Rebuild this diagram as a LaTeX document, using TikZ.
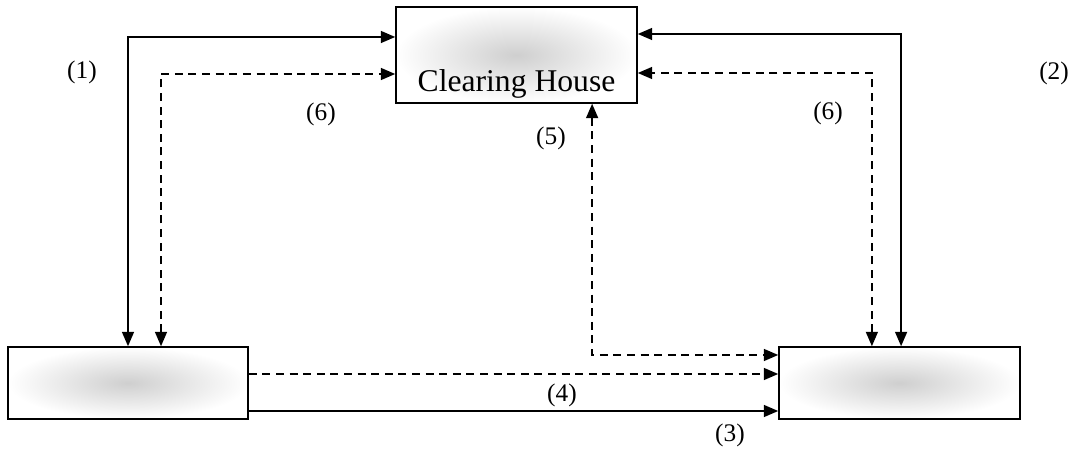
\documentclass[tikz,border=0pt]{standalone}
\usepackage{fontspec}
\setmainfont{Liberation Serif}
\usepackage{tikz}
\usetikzlibrary{positioning}
\usetikzlibrary{calc}
\usetikzlibrary{arrows.meta}

\begin{document}
\begin{tikzpicture}[x=0.025cm,y=-0.025cm,
  shadedbox/.style={draw=black,line width=1.1pt,rectangle,inner sep=0pt,
    shading=radial,inner color=gray!38,outer color=white},
  solidflow/.style={draw=black,line width=1.1pt,>={Triangle[length=0.36cm,width=0.3cm]}},
  dashedflow/.style={solidflow,dash pattern=on 0.2cm off 0.14cm},
  numlabel/.style={font=\fontsize{18}{20}\selectfont}]

\useasboundingbox (0,0) rectangle (1080,451);

%BOXES
\node[shadedbox,minimum width=6.025cm,minimum height=2.4cm](CH)at(516.5,55){};
\node[font=\fontsize{22.5}{26}\selectfont](CH-label)at([yshift=0.5cm]CH.south){Clearing House};
\node[shadedbox,minimum width=6cm,minimum height=1.8cm](LB)at(128,383){};
\node[shadedbox,minimum width=6.025cm,minimum height=1.8cm](RB)at(899.5,383){};

%LEFT
\draw[solidflow,<->] (LB.north) |- ([yshift=0.45cm]CH.west);
\draw[dashedflow,<->] ([xshift=0.825cm]LB.north) |- ([yshift=-0.475cm]CH.west);

%RIGHT
\draw[solidflow,<->] ([xshift=0.04cm]RB.north) |- ([yshift=0.525cm]CH.east);
\draw[dashedflow,<->] ([xshift=-0.69cm]RB.north) |- ([yshift=-0.45cm]CH.east);

%MIDDLE
\draw[dashedflow,<->] ([xshift=1.89cm]CH.south) |- ([yshift=0.7cm]RB.west);
\draw[dashedflow,->] ([yshift=0.225cm]LB.east) -- ([yshift=0.225cm]RB.west);
\draw[solidflow,->] ([yshift=-0.7cm]LB.east) -- ([yshift=-0.7cm]RB.west);

%LABELs
\node[numlabel](L1-label)at(82,72){(1)};
\node[numlabel](L2-label)at(1054,73){(2)};
\node[numlabel](L3-label)at(730,435){(3)};
\node[numlabel](L4-label)at(562,395){(4)};
\node[numlabel](L5-label)at(551,138){(5)};
\node[numlabel](L6a-label)at(321,114){(6)};
\node[numlabel](L6b-label)at(828,113){(6)};

\end{tikzpicture}
\end{document}
